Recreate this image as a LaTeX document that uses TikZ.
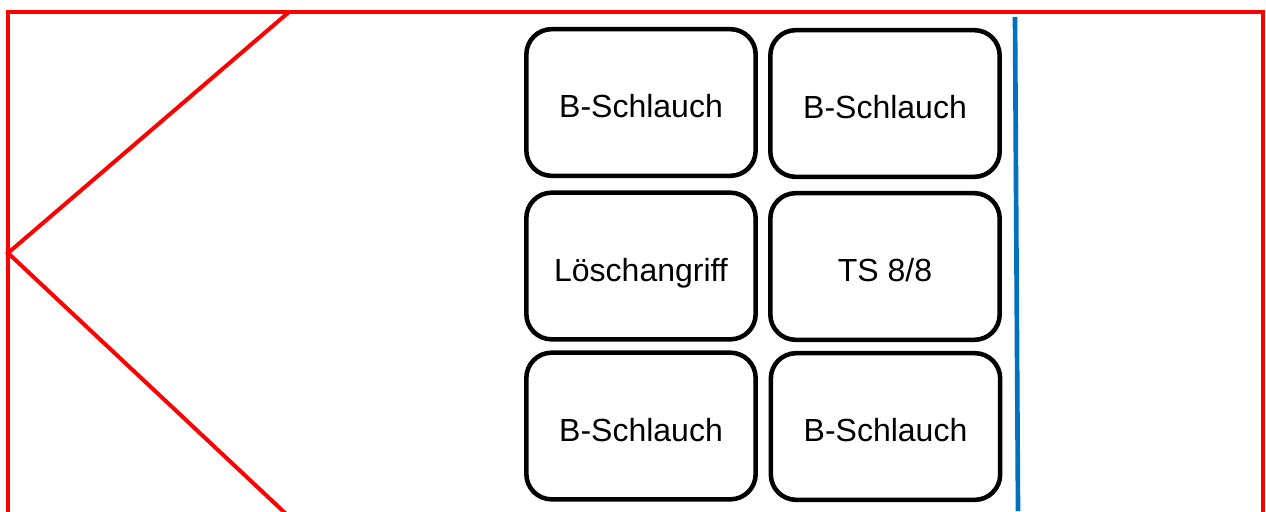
\documentclass[tikz,border=0pt]{standalone}
\usepackage{fontspec}
\setmainfont{Liberation Sans}
\definecolor{redline}{RGB}{255,0,0}
\definecolor{blueline}{RGB}{0,112,192}
\begin{document}
\begin{tikzpicture}[x=0.75pt,y=-0.75pt,
  box/.style={draw=black, line width=3.4pt, rounded corners=19pt, fill=white,
    minimum width=172pt, minimum height=110pt, inner sep=0pt,
    text height=23pt, text depth=0pt,
    font=\fontsize{24}{28}\selectfont},
  redstroke/.style={draw=redline, line width=3pt},
  bluestroke/.style={draw=blueline, line width=3.5pt}]
\useasboundingbox (0,0) rectangle (1266,511);
\begin{scope}
\clip (0,0) rectangle (1266,511);
\draw[redstroke, line join=miter] (8,540) -- (8,12) -- (1263,12) -- (1263,540);
\coordinate (kt) at (289,12);
\coordinate (ka) at (8,253);
\coordinate (kb) at (300,527);
\draw[redstroke, line join=miter] (kt) -- (ka) -- (kb);
\end{scope}
\node[box] (tl) at (641,102.5) {B-Schlauch};
\node[box] (tr) at (885,103.5) {B-Schlauch};
\node[box] (ml) at (641,266) {Löschangriff};
\node[box] (mr) at (885,266.5) {TS 8/8};
\node[box] (bl) at (641,426) {B-Schlauch};
\node[box] (br) at (885.5,426.5) {B-Schlauch};
\coordinate (b1) at (1015,17);
\coordinate (b2) at (1018,511);
\draw[bluestroke] (b1) -- (b2);
\end{tikzpicture}
\end{document}
